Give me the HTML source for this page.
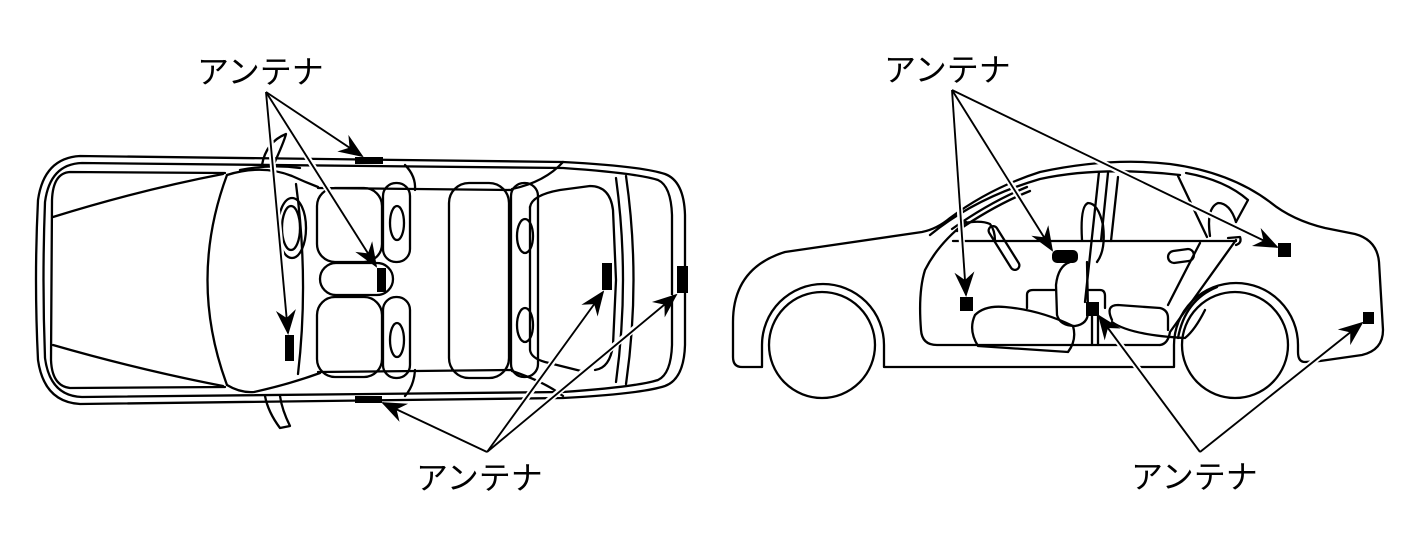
<!DOCTYPE html>
<html><head><meta charset="utf-8"><style>
html,body{margin:0;padding:0;background:#fff;}
svg{display:block;}
text{font-family:"Liberation Sans","Noto Sans CJK JP",sans-serif;font-size:32px;fill:#000;}
</style></head><body>
<svg width="1417" height="555" viewBox="0 0 1417 555" xmlns="http://www.w3.org/2000/svg">
<defs>
<marker id="a" viewBox="-28 -12 31 24" refX="0" refY="0" markerWidth="31" markerHeight="24" markerUnits="userSpaceOnUse" orient="auto">
<path d="M2,0 L-23,-10 L-15,0 L-23,10 Z" fill="#000"/>
</marker>
</defs>
<rect width="1417" height="555" fill="#fff"/>

<!-- ================= TOP VIEW ================= -->
<g fill="none" stroke="#000" stroke-width="2.3" stroke-linejoin="round" stroke-linecap="round">
<path d="M80 156 L563 162 Q640 166 665 174 Q684 181 685 215 L685 345 Q684 379 665 386 Q640 394 563 398 L80 404 Q44 402 38 360 Q34 280 38 200 Q44 158 80 156 Z"/>
<path d="M82 163 L563 168 Q636 173 658 180 Q671 186 672 215 L672 345 Q671 374 658 380 Q636 387 563 392 L82 397 Q50 396 45 358 Q42 280 45 202 Q50 164 82 163 Z"/>
<path d="M225 173 L70 172 Q53 173 52 200 L51 360 Q52 386 70 388 L225 387"/>
<path d="M53 217 Q140 190 223 174"/>
<path d="M53 345 Q140 370 223 386"/>
<path d="M227 175 Q188 280 227 385"/>
<path d="M227 175 Q262 164 292 176 Q305 182 318 187"/>
<path d="M240 170 Q270 164 300 168"/>
<path d="M296 184 Q309 280 298 374"/>
<path d="M227 385 Q240 393 254 392 Q290 384 320 373"/>
<path d="M318 188 L512 190"/>
<path d="M318 372 L512 370"/>
<path d="M512 189 Q545 182 563 162"/>
<path d="M512 371 Q545 382 563 396"/>
<path d="M405 165 Q416 176 415 190"/>
<path d="M415 370 Q414 386 405 396"/>
<!-- mirrors -->
<path d="M262 165 Q266 142 286 134 Q284 142 273 166"/>
<path d="M265 396 Q268 412 280 428 L290 426 Q282 410 280 396"/>
<!-- steering -->
<ellipse cx="291" cy="228" rx="9" ry="22"/>
<ellipse cx="292" cy="228" rx="14" ry="30"/>
<!-- front seats -->
<rect x="317" y="188" width="65" height="74" rx="18"/>
<rect x="317" y="297" width="65" height="80" rx="18"/>
<rect x="320" y="263" width="73" height="32" rx="16"/>
<rect x="383" y="183" width="27" height="79" rx="13"/>
<ellipse cx="397" cy="223" rx="7" ry="17"/>
<rect x="383" y="297" width="27" height="81" rx="13"/>
<ellipse cx="397" cy="340" rx="7" ry="17"/>
<!-- rear seat -->
<rect x="449" y="183" width="60" height="195" rx="20"/>
<rect x="511" y="183" width="27" height="194" rx="13"/>
<ellipse cx="525" cy="236" rx="8" ry="17"/>
<ellipse cx="525" cy="325" rx="8" ry="17"/>
<!-- rear window / trunk -->
<path d="M530 207 Q532 195 560 190 L590 186 Q610 186 613 210 L616 280 L613 345 Q610 368 595 370"/>
<path d="M530 207 L530 350 Q531 358 545 362 L585 372"/>
<path d="M616 178 Q630 280 616 382"/>
<path d="M626 176 Q641 280 626 384"/>
</g>

<!-- ================= SIDE VIEW ================= -->
<g fill="none" stroke="#000" stroke-width="2.3" stroke-linejoin="round" stroke-linecap="round">
<path d="M762 367 L742 367 Q733 367 733 357 L733 322 Q733 268 785 252 L922 232 Q937 229 950 218 Q990 188 1040 172 Q1110 157 1170 164 Q1230 172 1270 202 Q1292 220 1325 228 L1355 234 Q1377 240 1379 262 L1383 330 Q1383 350 1362 355 L1320 361 L1305 362 Q1298 362 1298 352 L1298 345 A62 62 0 0 0 1174 345 L1174 367 L884 367 L884 345 A61 61 0 0 0 762 345 Z"/>
<circle cx="822" cy="345" r="53"/>
<circle cx="1235" cy="345" r="53"/>
<!-- roof inner lines -->
<path d="M930 235 Q975 198 1040 179 Q1100 166 1180 175"/>
<path d="M952 229 Q990 202 1027 187"/>
<path d="M957 231 Q995 205 1030 191"/>
<!-- front door -->
<path d="M966 222 Q938 244 925 270 Q918 292 921 330 Q922 345 937 345 L1160 345"/>
<path d="M953 241 L1236 241"/>
<path d="M963 223 Q982 220 990 224 Q995 230 995 241"/>
<rect x="-25" y="-4.5" width="50" height="9" rx="4.5" transform="translate(1004 248) rotate(58)"/>
<!-- front seat -->
<path d="M978 346 Q968 330 975 315 Q985 305 1005 307 Q1040 310 1073 326 Q1077 340 1068 352 Z"/>
<path d="M1070 262 Q1058 266 1056 285 L1057 315 Q1060 326 1075 326 Q1088 324 1088 312 L1087 262"/>
<path d="M1027 308 L1027 295 Q1027 290 1033 290 L1056 290"/>
<path d="M1088 290 L1100 290 Q1105 290 1105 296 L1105 308"/>
<!-- B pillar -->
<path d="M1092 345 L1092 316"/>
<path d="M1098 345 L1098 316"/>
<path d="M1099 172 L1085 302"/>
<path d="M1108 173 L1101 241"/>
<path d="M1118 177 L1111 241"/>
<path d="M1082 240 Q1080 206 1088 203 Q1098 203 1103 225 Q1106 250 1097 262"/>
<!-- rear door -->
<rect x="1168" y="250" width="26" height="12" rx="6" transform="rotate(-8 1181 256)"/>
<path d="M1160 345 Q1168 344 1170 332 L1236 240"/>
<path d="M1200 243 Q1190 262 1168 305"/>
<path d="M1228 238 L1240 237 Q1242 243 1236 245"/>
<!-- rear seat -->
<path d="M1112 320 Q1105 305 1118 305 L1160 308 Q1168 310 1168 318 L1168 330"/>
<path d="M1112 322 Q1130 335 1185 338 Q1195 330 1205 310"/>
<path d="M1178 338 Q1185 300 1217 287"/>
<!-- rear window -->
<path d="M1178 176 L1207 237"/>
<path d="M1186 173 Q1225 180 1248 200 L1236 222"/>
<path d="M1210 236 Q1206 208 1218 203 Q1230 203 1236 222"/>
</g>

<!-- ================= ARROWS ================= -->
<g stroke="#fff" stroke-width="6" fill="none" stroke-linecap="round">
<line x1="266" y1="92" x2="358" y2="153"/>
<line x1="266" y1="92" x2="288" y2="328"/>
<line x1="266" y1="92" x2="373" y2="261"/>
<line x1="487" y1="452" x2="388" y2="405"/>
<line x1="487" y1="452" x2="600" y2="297"/>
<line x1="487" y1="452" x2="671" y2="298"/>
<line x1="952" y1="90" x2="965" y2="290"/>
<line x1="952" y1="90" x2="1049" y2="245"/>
<line x1="952" y1="90" x2="1272" y2="245"/>
<line x1="1200" y1="452" x2="1102" y2="320"/>
<line x1="1200" y1="452" x2="1357" y2="327"/>
</g>
<g stroke="#000" stroke-width="1.9" fill="none" marker-end="url(#a)">
<line x1="266" y1="92" x2="362" y2="156"/>
<line x1="266" y1="92" x2="288" y2="333"/>
<line x1="266" y1="92" x2="376" y2="266"/>
<line x1="487" y1="452" x2="383" y2="403"/>
<line x1="487" y1="452" x2="603" y2="292"/>
<line x1="487" y1="452" x2="676" y2="295"/>
<line x1="952" y1="90" x2="966" y2="295"/>
<line x1="952" y1="90" x2="1052" y2="250"/>
<line x1="952" y1="90" x2="1277" y2="247"/>
<line x1="1200" y1="452" x2="1099" y2="316"/>
<line x1="1200" y1="452" x2="1362" y2="323"/>
</g>

<!-- ================= ANTENNAS ================= -->
<g fill="#000">
<rect x="355" y="157" width="28" height="7"/>
<rect x="355" y="396" width="27" height="7"/>
<rect x="285" y="335" width="9" height="26"/>
<rect x="377" y="268" width="9" height="24"/>
<rect x="602" y="263" width="10" height="27"/>
<rect x="677" y="266" width="11" height="27"/>
<rect x="960" y="297" width="13" height="14"/>
<rect x="1052" y="250" width="26" height="13" rx="5"/>
<rect x="1086" y="302" width="13" height="14"/>
<rect x="1278" y="243" width="13" height="14"/>
<rect x="1363" y="312" width="11" height="12"/>
</g>

<!-- ================= LABELS ================= -->
<text x="197" y="83">アンテナ</text>
<text x="884" y="81">アンテナ</text>
<text x="416" y="489">アンテナ</text>
<text x="1131" y="488">アンテナ</text>
</svg>
</body></html>
